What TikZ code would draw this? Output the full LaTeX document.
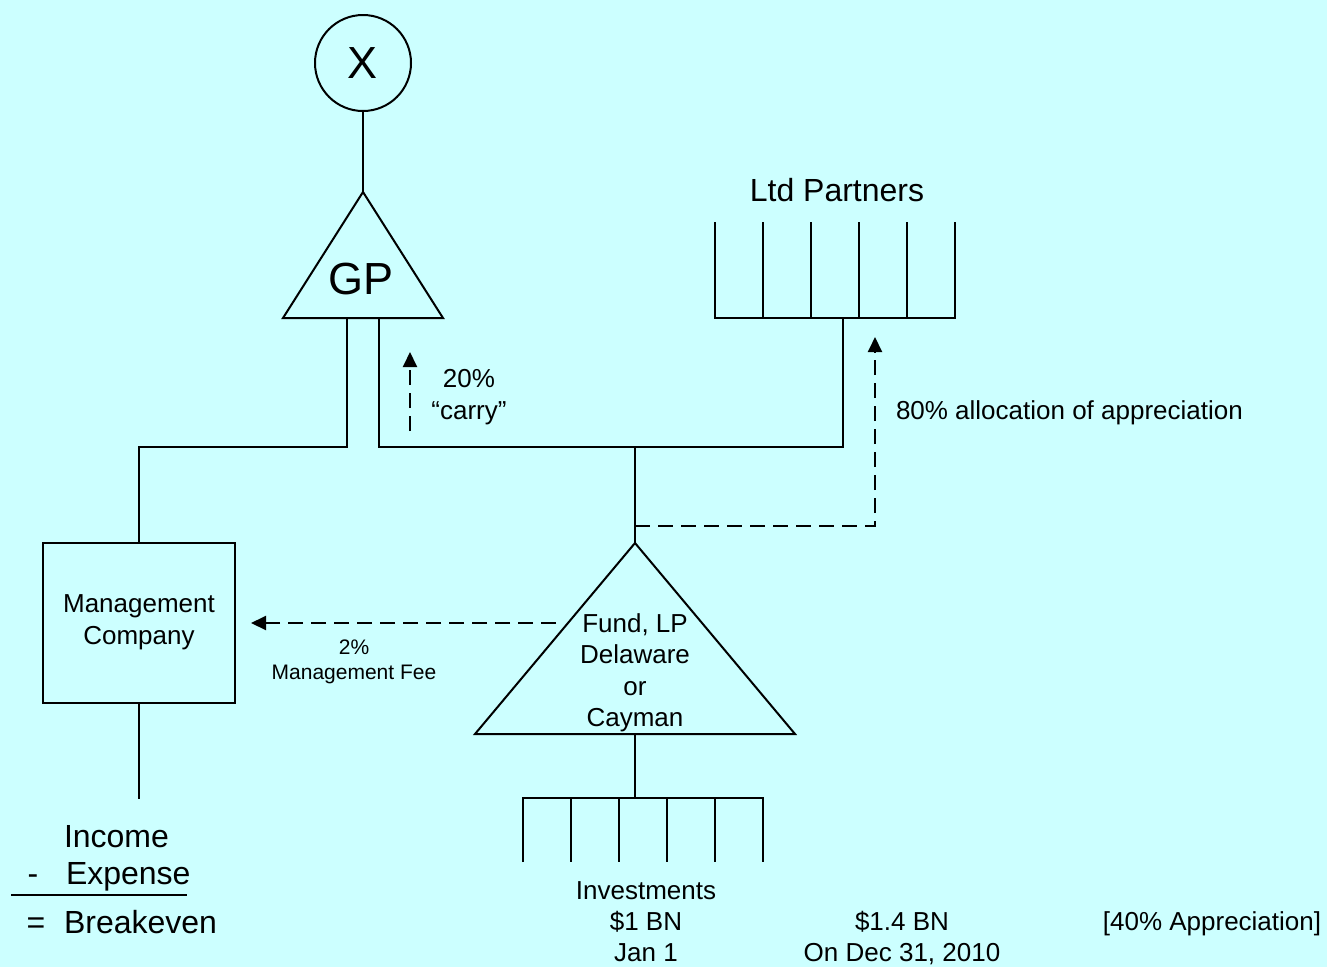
\documentclass[tikz,border=0pt]{standalone}
\usepackage{fontspec}
\setmainfont{Liberation Sans}
\usetikzlibrary{arrows.meta}
\definecolor{bg}{HTML}{CCFFFF}
\begin{document}
\begin{tikzpicture}[x=1pt,y=-1pt,line width=2pt,line join=miter,
  dsh/.style={line width=2pt,dash pattern=on 15pt off 8pt},
  arr/.style={-{Triangle[length=15pt,width=14pt]}},
  txt/.style={inner sep=0pt,align=center,font=\fontsize{26}{31.5}\selectfont},
  big/.style={inner sep=0pt,align=center,font=\fontsize{32}{38}\selectfont},
  huge/.style={inner sep=0pt,font=\fontsize{45}{54}\selectfont},
  small/.style={inner sep=0pt,align=center,font=\fontsize{21}{25}\selectfont}]
\fill[bg] (0,0) rectangle (1327,967);
\useasboundingbox (0,0) rectangle (1327,967);

% X circle
\node[circle,draw,minimum size=96pt,inner sep=0pt,huge] (x) at (363,63) {X};

% GP triangle
\coordinate (gptop) at (363,192);
\coordinate (gpl) at (347,318);
\coordinate (gpr) at (379,318);
\draw (gptop) -- (443,318) -- (283,318) -- cycle;
\node[huge] (gp) at (361,279) {GP};
\draw (x) -- (gptop);

% Management company
\node[draw,minimum width=192pt,minimum height=160pt,inner sep=0pt] (mc) at (139,623) {};
\node[txt] (mctext) at (139,622) {Management\\Company};

% Ltd partners
\coordinate (lpbot) at (843,318);
\draw (715,222) -- (715,318) -- (955,318) -- (955,222);
\foreach \xx in {763,811,859,907} \draw (\xx,222) -- (\xx,318);
\node[big] (lp) at (837,190) {Ltd Partners};

% Fund triangle
\coordinate (fundtop) at (635,543);
\coordinate (fundbot) at (635,734);
\draw (fundtop) -- (795,734) -- (475,734) -- cycle;
\node[txt] (fund) at (635,673) {Fund, LP\\Delaware\\or\\Cayman};

% Investments
\coordinate (invtop) at (635,798);
\draw (523,862) -- (523,798) -- (763,798) -- (763,862);
\foreach \xx in {571,619,667,715} \draw (\xx,798) -- (\xx,862);
\draw (fundbot) -- (invtop);

% connectors
\coordinate (jl) at (347,447);
\coordinate (jr) at (379,447);
\coordinate (jf) at (635,447);
\draw (gpl) -- (jl) -| (mc.north);
\draw (gpr) -- (jr) -| (lpbot);
\draw (jf) -- (fundtop);
\coordinate (mcbot) at (139,799);
\draw (mc.south) -- (mcbot);

% dashed arrows
\coordinate (c1s) at (410,431);
\coordinate (c1e) at (410,352);
\draw[dsh,arr] (c1s) -- (c1e);
\node[txt] (carry) at (469,397) {20\%\\“carry”};

\coordinate (a1) at (635,526);
\coordinate (a2) at (875,526);
\coordinate (a3) at (875,337);
\draw[dsh,arr] (a1) -- (a2) -- (a3);
\node[txt,anchor=west] (alloc) at (895,413) {80\% allocation of appreciation};

\coordinate (m1) at (556,623);
\coordinate (m2) at (251,623);
\draw[dsh,arr] (m1) -- (m2);
\node[small] (fee) at (354,662) {2\%\\Management Fee};

% Income statement
\node[big,anchor=base west] (inc) at (63,847) {Income};
\node[big,anchor=base west] (exp) at (65,884) {Expense};
\node[big,anchor=base] (minus) at (33,884) {-};
\coordinate (u1) at (11,895);
\coordinate (u2) at (187,895);
\draw (u1) -- (u2);
\node[big,anchor=base west] (be) at (63,933) {Breakeven};
\node[big,anchor=base] (eq) at (36,933) {=};

% bottom values
\node[txt,font=\fontsize{26}{31}\selectfont] (inv) at (646,922) {Investments\\\$1 BN\\Jan 1};
\node[txt,font=\fontsize{26}{31}\selectfont] (val) at (902,938) {\$1.4 BN\\On Dec 31, 2010};
\node[txt] (app) at (1212,924) {[40\% Appreciation]};
\end{tikzpicture}
\end{document}
